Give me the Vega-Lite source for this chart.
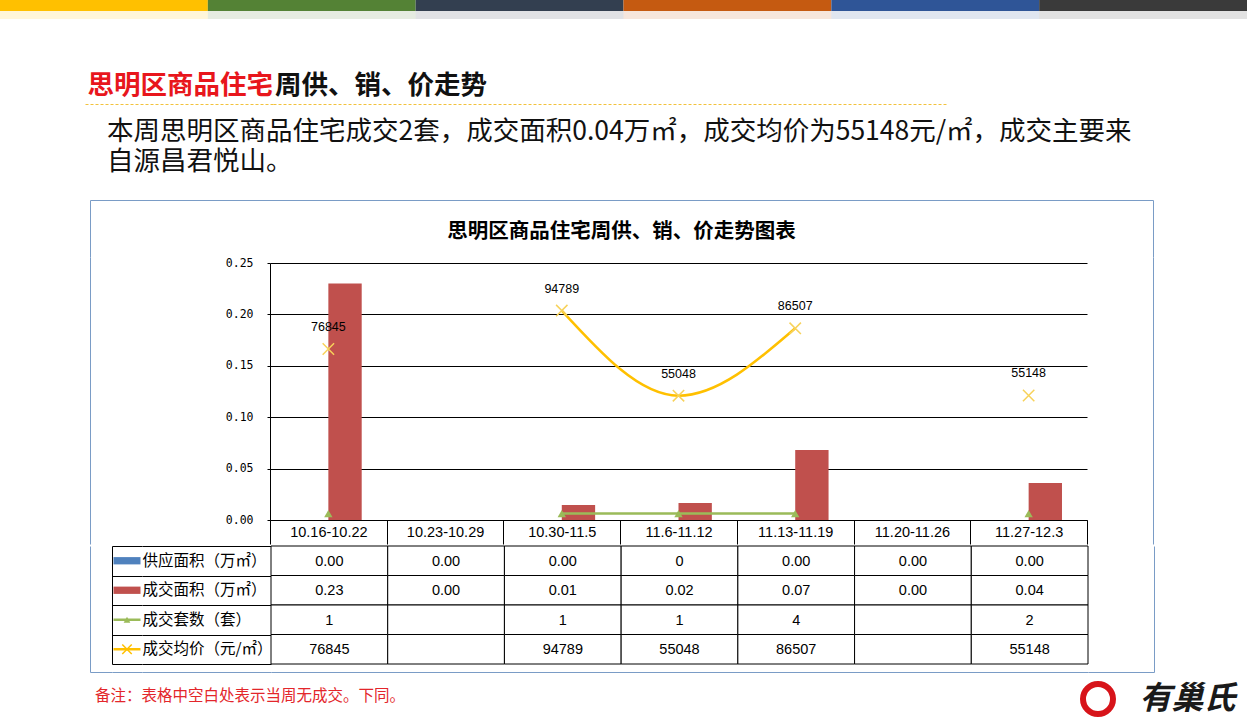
{
  "$schema": "https://vega.github.io/schema/vega-lite/v6.json",
  "padding": 0,
  "background": "white",
  "spacing": 0,
  "resolve": {"scale": {"color": "independent"}},
  "config": {"view": {"stroke": null}, "axis": {"minExtent": 0}},
  "datasets": {
    "segs": [{"seg": "1"}, {"seg": "2"}, {"seg": "3"}, {"seg": "4"}, {"seg": "5"}, {"seg": "6"}],
    "main": [
      {"week": "10.16-10.22", "supply": 0, "area": 0.23, "count": 1, "price": 76845},
      {"week": "10.23-10.29", "supply": 0, "area": 0, "count": null, "price": null},
      {"week": "10.30-11.5", "supply": 0, "area": 0.0146, "count": 1, "price": 94789},
      {"week": "11.6-11.12", "supply": 0, "area": 0.0165, "count": 1, "price": 55048},
      {"week": "11.13-11.19", "supply": 0, "area": 0.068, "count": 4, "price": 86507},
      {"week": "11.20-11.26", "supply": 0, "area": 0, "count": null, "price": null},
      {"week": "11.27-12.3", "supply": 0, "area": 0.036, "count": 2, "price": 55148}
    ],
    "table": [
      {"row": "供应面积（万㎡）", "week": "10.16-10.22", "text": "0.00"},
      {"row": "供应面积（万㎡）", "week": "10.23-10.29", "text": "0.00"},
      {"row": "供应面积（万㎡）", "week": "10.30-11.5", "text": "0.00"},
      {"row": "供应面积（万㎡）", "week": "11.6-11.12", "text": "0"},
      {"row": "供应面积（万㎡）", "week": "11.13-11.19", "text": "0.00"},
      {"row": "供应面积（万㎡）", "week": "11.20-11.26", "text": "0.00"},
      {"row": "供应面积（万㎡）", "week": "11.27-12.3", "text": "0.00"},
      {"row": "成交面积（万㎡）", "week": "10.16-10.22", "text": "0.23"},
      {"row": "成交面积（万㎡）", "week": "10.23-10.29", "text": "0.00"},
      {"row": "成交面积（万㎡）", "week": "10.30-11.5", "text": "0.01"},
      {"row": "成交面积（万㎡）", "week": "11.6-11.12", "text": "0.02"},
      {"row": "成交面积（万㎡）", "week": "11.13-11.19", "text": "0.07"},
      {"row": "成交面积（万㎡）", "week": "11.20-11.26", "text": "0.00"},
      {"row": "成交面积（万㎡）", "week": "11.27-12.3", "text": "0.04"},
      {"row": "成交套数（套）", "week": "10.16-10.22", "text": "1"},
      {"row": "成交套数（套）", "week": "10.23-10.29", "text": ""},
      {"row": "成交套数（套）", "week": "10.30-11.5", "text": "1"},
      {"row": "成交套数（套）", "week": "11.6-11.12", "text": "1"},
      {"row": "成交套数（套）", "week": "11.13-11.19", "text": "4"},
      {"row": "成交套数（套）", "week": "11.20-11.26", "text": ""},
      {"row": "成交套数（套）", "week": "11.27-12.3", "text": "2"},
      {"row": "成交均价（元/㎡）", "week": "10.16-10.22", "text": "76845"},
      {"row": "成交均价（元/㎡）", "week": "10.23-10.29", "text": ""},
      {"row": "成交均价（元/㎡）", "week": "10.30-11.5", "text": "94789"},
      {"row": "成交均价（元/㎡）", "week": "11.6-11.12", "text": "55048"},
      {"row": "成交均价（元/㎡）", "week": "11.13-11.19", "text": "86507"},
      {"row": "成交均价（元/㎡）", "week": "11.20-11.26", "text": ""},
      {"row": "成交均价（元/㎡）", "week": "11.27-12.3", "text": "55148"}
    ]
  },
  "vconcat": [
    {
      "width": 1247, "height": 11,
      "data": {"name": "segs"},
      "mark": {"type": "rect"},
      "encoding": {
        "x": {"field": "seg", "type": "nominal", "scale": {"paddingInner": 0, "paddingOuter": 0}, "axis": null},
        "color": {"field": "seg", "type": "nominal", "scale": {"range": ["#FFC000", "#548235", "#333F50", "#C55A11", "#2F5597", "#3A3A3A"]}, "legend": null}
      }
    },
    {
      "width": 1247, "height": 8,
      "data": {"name": "segs"},
      "mark": {"type": "rect", "opacity": 0.15},
      "encoding": {
        "x": {"field": "seg", "type": "nominal", "scale": {"paddingInner": 0, "paddingOuter": 0}, "axis": null},
        "color": {"field": "seg", "type": "nominal", "scale": {"range": ["#FFC000", "#548235", "#333F50", "#C55A11", "#2F5597", "#3A3A3A"]}, "legend": null}
      }
    },
    {
      "spacing": 0, "bounds": "flush",
      "hconcat": [
        {"width": 85, "height": 85, "data": {"values": []}, "mark": "point"},
        {"width": 188, "height": 85, "data": {"values": [{}]},
         "mark": {"type": "text", "text": "思明区商品住宅", "align": "right", "baseline": "alphabetic", "dx": 94, "dy": 32.5, "font": "Noto Sans CJK SC", "fontSize": 26.5, "fontWeight": "bold", "color": "#E8161C"},
         "encoding": {"x": {"datum": 0.5, "type": "quantitative", "scale": {"domain": [0, 1]},
           "axis": {"orient": "bottom", "domain": true, "domainColor": "#F2C23C", "domainDash": [3, 2], "domainWidth": 1, "ticks": false, "labels": false, "grid": false, "title": null}}}},
        {"width": 675, "height": 85, "data": {"values": [{}]},
         "mark": {"type": "text", "text": "周供、销、价走势", "align": "left", "baseline": "alphabetic", "dx": -335.5, "dy": 32.5, "font": "Noto Sans CJK SC", "fontSize": 26.5, "fontWeight": "bold", "color": "#111111"},
         "encoding": {"x": {"datum": 0.5, "type": "quantitative", "scale": {"domain": [0, 1]},
           "axis": {"orient": "bottom", "domain": true, "domainColor": "#F2C23C", "domainDash": [3, 2], "domainWidth": 1, "ticks": false, "labels": false, "grid": false, "title": null}}}}
      ]
    },
    {
      "width": 1247, "height": 96, "data": {"values": [{}]},
      "layer": [
        {"mark": {"type": "text", "text": "本周思明区商品住宅成交2套，成交面积0.04万㎡，成交均价为55148元/㎡，成交主要来", "align": "left", "baseline": "alphabetic", "dx": -516.5, "dy": -12, "font": "Noto Sans CJK SC", "fontSize": 26.5, "color": "#111111"}},
        {"mark": {"type": "text", "text": "自源昌君悦山。", "align": "left", "baseline": "alphabetic", "dx": -516.5, "dy": 18, "font": "Noto Sans CJK SC", "fontSize": 26.5, "color": "#111111"}}
      ]
    },
    {
      "spacing": 0, "bounds": "flush",
      "hconcat": [
        {"width": 90, "height": 57, "data": {"values": []}, "mark": "point"},
        {"width": 1063, "height": 57, "data": {"values": [{}]},
         "mark": {"type": "text", "text": "思明区商品住宅周供、销、价走势图表", "baseline": "alphabetic", "dy": 9, "font": "Noto Sans CJK SC", "fontSize": 20.5, "fontWeight": "bold", "color": "#000000"},
         "encoding": {
           "x": {"datum": 0.5, "type": "quantitative", "scale": {"domain": [0, 1]},
             "axis": {"orient": "top", "domain": true, "domainColor": "#7A9CC6", "domainWidth": 1, "ticks": false, "labels": false, "grid": false, "title": null}},
           "y": {"datum": 0.5, "type": "quantitative", "scale": {"domain": [0, 1]},
             "axis": {"orient": "left", "domain": true, "domainColor": "#7A9CC6", "domainWidth": 1, "ticks": false, "labels": false, "grid": false, "title": null}}
         }},
        {"width": 1, "height": 57, "data": {"values": []}, "mark": "point",
         "encoding": {"y": {"field": "v", "type": "quantitative", "scale": {"domain": [0, 1]},
           "axis": {"orient": "left", "domain": true, "domainColor": "#7A9CC6", "domainWidth": 1, "ticks": false, "labels": false, "grid": false, "title": null}}}}
      ]
    },
    {
      "spacing": 0, "bounds": "flush",
      "hconcat": [
        {"width": 90, "height": 287, "data": {"values": []}, "mark": "point"},
        {"width": 180, "height": 287, "data": {"values": []}, "mark": "point",
         "encoding": {"y": {"field": "v", "type": "quantitative", "scale": {"domain": [0, 1]},
           "axis": {"orient": "left", "domain": true, "domainColor": "#7A9CC6", "domainWidth": 1, "ticks": false, "labels": false, "grid": false, "title": null}}}},
        {
          "width": 817, "height": 263,
          "data": {"name": "main"},
          "encoding": {
            "x": {"field": "week", "type": "nominal", "scale": {"domain": ["10.16-10.22", "10.23-10.29", "10.30-11.5", "11.6-11.12", "11.13-11.19", "11.20-11.26", "11.27-12.3"], "paddingInner": 0, "paddingOuter": 0},
              "axis": {"orient": "bottom", "domain": true, "domainColor": "#000000", "domainWidth": 1, "ticks": true, "tickBand": "extent", "tickSize": 24, "tickColor": "#000000", "tickWidth": 1, "labelFont": "Liberation Sans", "labelFontSize": 14.5, "labelColor": "#000000", "labelPadding": -12, "labelBaseline": "middle", "labelAngle": 0, "labelOverlap": false, "grid": false, "title": null, "maxExtent": 24}}
          },
          "layer": [
            {
              "transform": [{"fold": ["supply", "area"], "as": ["series", "val"]}],
              "mark": {"type": "bar"},
              "encoding": {
                "xOffset": {"field": "series", "type": "nominal", "scale": {"domain": ["supply", "area"], "paddingInner": 0, "paddingOuter": 0.75}},
                "y": {"field": "val", "type": "quantitative", "scale": {"domain": [0, 0.25], "nice": false, "range": [263, 6]},
                  "axis": {"orient": "left", "values": [0, 0.05, 0.1, 0.15, 0.2, 0.25], "format": ".2f", "grid": true, "gridColor": "#000000", "gridOpacity": 1, "gridWidth": 1, "domain": true, "domainColor": "#000000", "domainWidth": 1, "ticks": true, "tickColor": "#000000", "tickSize": 3, "tickWidth": 1, "labelFont": "DejaVu Sans Mono", "labelFontSize": 11.5, "labelColor": "#000000", "labelPadding": 14, "title": null}},
                "color": {"field": "series", "type": "nominal", "scale": {"domain": ["supply", "area"], "range": ["#4F81BD", "#C0504D"]}, "legend": null}
              }
            },
            {
              "layer": [
                {
                  "mark": {"type": "line", "color": "#FFC000", "strokeWidth": 2.5, "interpolate": "monotone", "invalid": "break-paths-show-domains"},
                  "encoding": {"y": {"field": "price", "type": "quantitative", "scale": {"domain": [-3000, 117000], "nice": false, "zero": false, "range": [263, 6]},
                    "axis": {"orient": "right", "values": [-3000, 17000, 37000, 57000, 77000, 97000, 117000], "format": "d", "grid": false, "domain": true, "domainColor": "#000000", "domainWidth": 1, "ticks": true, "tickColor": "#000000", "tickSize": 4, "tickWidth": 1, "labelFont": "DejaVu Sans Mono", "labelFontSize": 11, "labelColor": "#000000", "labelPadding": 6, "title": null}}}
                },
                {
                  "mark": {"type": "line", "color": "#9BBB59", "strokeWidth": 2.5, "invalid": "break-paths-show-domains"},
                  "encoding": {"y": {"field": "count", "type": "quantitative", "axis": null}}
                },
                {
                  "mark": {"type": "point", "shape": "triangle-up", "filled": true, "size": 70, "color": "#9BBB59", "opacity": 1},
                  "encoding": {"y": {"field": "count", "type": "quantitative", "axis": null}}
                },
                {
                  "mark": {"type": "point", "shape": "M-1,-1L1,1M-1,1L1,-1", "filled": false, "size": 130, "color": "#F7D25A", "strokeWidth": 1.5, "opacity": 1},
                  "encoding": {"y": {"field": "price", "type": "quantitative", "axis": null}}
                },
                {
                  "mark": {"type": "text", "dy": -22, "font": "Liberation Sans", "fontSize": 12.5, "color": "#000000"},
                  "encoding": {"y": {"field": "price", "type": "quantitative", "axis": null}, "text": {"field": "price", "type": "quantitative", "format": "d"}}
                }
              ]
            }
          ],
          "resolve": {"scale": {"y": "independent"}}
        },
        {"width": 66, "height": 287, "data": {"values": []}, "mark": "point",
         "encoding": {"y": {"field": "v", "type": "quantitative", "scale": {"domain": [0, 1]},
           "axis": {"orient": "right", "domain": true, "domainColor": "#7A9CC6", "domainWidth": 1, "ticks": false, "labels": false, "grid": false, "title": null}}}}
      ]
    },
    {
      "spacing": 0, "bounds": "flush",
      "resolve": {"scale": {"color": "independent"}},
      "hconcat": [
        {"width": 90, "height": 126, "data": {"values": []}, "mark": "point"},
        {"width": 22, "height": 126, "data": {"values": []}, "mark": "point",
         "encoding": {
           "x": {"field": "v", "type": "quantitative", "scale": {"domain": [0, 1]},
             "axis": {"orient": "bottom", "domain": true, "domainColor": "#7A9CC6", "domainWidth": 1, "ticks": false, "labels": false, "grid": false, "title": null}},
           "y": {"field": "v", "type": "quantitative", "scale": {"domain": [0, 1]},
             "axis": {"orient": "left", "domain": true, "domainColor": "#7A9CC6", "domainWidth": 1, "ticks": false, "labels": false, "grid": false, "title": null}}}},
        {
          "width": 30, "height": 126,
          "data": {"name": "table"},
          "transform": [{"filter": "datum.week === '10.16-10.22'"}],
          "encoding": {
            "x": {"datum": 0.5, "type": "quantitative", "scale": {"domain": [0, 1]},
              "axis": {"orient": "bottom", "domain": true, "domainColor": "#7A9CC6", "domainWidth": 1, "ticks": false, "labels": false, "grid": false, "title": null}},
            "y": {"field": "row", "type": "nominal", "scale": {"domain": ["供应面积（万㎡）", "成交面积（万㎡）", "成交套数（套）", "成交均价（元/㎡）"], "paddingInner": 0, "paddingOuter": 0, "range": [0, 118]},
              "axis": {"orient": "left", "domain": true, "domainColor": "#000000", "domainWidth": 1, "grid": true, "gridColor": "#000000", "gridOpacity": 1, "gridWidth": 1, "tickBand": "extent", "ticks": false, "labels": false, "title": null}},
            "color": {"field": "row", "type": "nominal", "scale": {"domain": ["供应面积（万㎡）", "成交面积（万㎡）", "成交套数（套）", "成交均价（元/㎡）"], "range": ["#4F81BD", "#C0504D", "#9BBB59", "#FFC000"]}, "legend": null}
          },
          "layer": [
            {"transform": [{"filter": "datum.row === '供应面积（万㎡）' || datum.row === '成交面积（万㎡）'"}],
             "mark": {"type": "point", "shape": "M-1,-0.27H1V0.27H-1Z", "size": 729, "filled": true, "opacity": 1}},
            {"transform": [{"filter": "datum.row === '成交套数（套）' || datum.row === '成交均价（元/㎡）'"}],
             "mark": {"type": "point", "shape": "M-1,0H1", "size": 729, "filled": false, "strokeWidth": 2.5, "opacity": 1}},
            {"transform": [{"filter": "datum.row === '成交套数（套）'"}],
             "mark": {"type": "point", "shape": "triangle-up", "size": 45, "filled": true, "opacity": 1}},
            {"transform": [{"filter": "datum.row === '成交均价（元/㎡）'"}],
             "mark": {"type": "point", "shape": "M-1,-1L1,1M-1,1L1,-1", "size": 90, "filled": false, "strokeWidth": 1.5, "opacity": 1}}
          ]
        },
        {
          "width": 129, "height": 126,
          "data": {"name": "table"},
          "transform": [{"filter": "datum.week === '10.16-10.22'"}],
          "mark": {"type": "text", "align": "left", "dx": -64, "font": "Noto Sans CJK SC", "fontSize": 15.5, "color": "#000000"},
          "encoding": {
            "x": {"datum": 0.5, "type": "quantitative", "scale": {"domain": [0, 1]},
              "axis": {"orient": "bottom", "domain": true, "domainColor": "#7A9CC6", "domainWidth": 1, "ticks": false, "labels": false, "grid": false, "title": null}},
            "y": {"field": "row", "type": "nominal", "scale": {"domain": ["供应面积（万㎡）", "成交面积（万㎡）", "成交套数（套）", "成交均价（元/㎡）"], "paddingInner": 0, "paddingOuter": 0, "range": [0, 118]},
              "axis": {"orient": "left", "domain": false, "grid": true, "gridColor": "#000000", "gridOpacity": 1, "gridWidth": 1, "tickBand": "extent", "ticks": false, "labels": false, "title": null}},
            "text": {"field": "row"}
          }
        },
        {
          "width": 817, "height": 126,
          "data": {"name": "table"},
          "encoding": {
            "x": {"field": "week", "type": "nominal", "scale": {"domain": ["10.16-10.22", "10.23-10.29", "10.30-11.5", "11.6-11.12", "11.13-11.19", "11.20-11.26", "11.27-12.3"], "paddingInner": 0, "paddingOuter": 0},
              "axis": {"orient": "bottom", "domain": true, "domainColor": "#7A9CC6", "domainWidth": 1, "ticks": false, "labels": false, "grid": false, "title": null}},
            "y": {"field": "row", "type": "nominal", "scale": {"domain": ["供应面积（万㎡）", "成交面积（万㎡）", "成交套数（套）", "成交均价（元/㎡）"], "paddingInner": 0, "paddingOuter": 0, "range": [0, 118]}, "axis": null}
          },
          "layer": [
            {"mark": {"type": "rect", "fill": "#FFFFFF", "stroke": "#000000", "strokeWidth": 1}},
            {"mark": {"type": "text", "font": "Liberation Sans", "fontSize": 14.5, "color": "#000000", "dy": 1}, "encoding": {"text": {"field": "text"}}}
          ]
        },
        {"width": 66, "height": 126, "data": {"values": []}, "mark": "point",
         "encoding": {
           "x": {"field": "v", "type": "quantitative", "scale": {"domain": [0, 1]},
             "axis": {"orient": "bottom", "domain": true, "domainColor": "#7A9CC6", "domainWidth": 1, "ticks": false, "labels": false, "grid": false, "title": null}},
           "y": {"field": "v", "type": "quantitative", "scale": {"domain": [0, 1]},
             "axis": {"orient": "right", "domain": true, "domainColor": "#7A9CC6", "domainWidth": 1, "ticks": false, "labels": false, "grid": false, "title": null}}}}
      ]
    },
    {
      "spacing": 0, "bounds": "flush",
      "hconcat": [
        {"width": 90, "height": 48, "data": {"values": []}, "mark": "point"},
        {"width": 978, "height": 48, "data": {"values": [{}]},
         "mark": {"type": "text", "text": "备注：表格中空白处表示当周无成交。下同。", "align": "left", "baseline": "alphabetic", "dx": -484, "dy": -4, "font": "Noto Sans CJK SC", "fontSize": 15.5, "color": "#E3262B"}},
        {"width": 60, "height": 36, "data": {"values": [{}]},
         "mark": {"type": "point", "shape": "circle", "size": 900, "filled": false, "stroke": "#D7141A", "strokeWidth": 6, "opacity": 1}},
        {"width": 25, "height": 36, "data": {"values": []}, "mark": "point"},
        {"width": 94, "height": 36, "data": {"values": [{}]},
         "mark": {"type": "text", "text": "有巢氏", "dx": -12.5, "font": "Noto Sans CJK SC", "fontSize": 32, "fontWeight": "bold", "fontStyle": "italic", "color": "#1A1A1A"}}
      ]
    }
  ]
}
